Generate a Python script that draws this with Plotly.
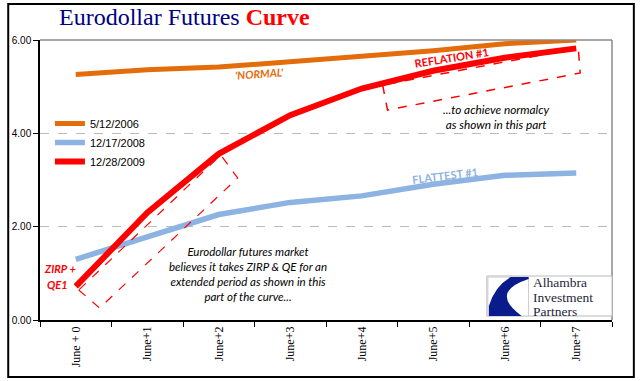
import plotly.graph_objects as go

categories = ["June + 0", "June+1", "June+2", "June+3", "June+4", "June+5", "June+6", "June+7"]
s2006 = [5.26, 5.36, 5.42, 5.53, 5.64, 5.77, 5.92, 6.00]
s2008 = [1.30, 1.78, 2.26, 2.52, 2.66, 2.91, 3.10, 3.15]
s2009 = [0.72, 2.30, 3.56, 4.39, 4.96, 5.34, 5.62, 5.82]
series_names = ["5/12/2006", "12/17/2008", "12/28/2009"]
series_colors = ["#E46C0A", "#8DB3E2", "#FF0000"]
y_ticks = [0, 2, 4, 6]

W, H = 641, 381
L, R, T, B = 36, 29, 40, 61
PW, PH = W - L - R, H - T - B


def px(x):
    return (x - L) / PW


def py(y):
    return (H - B - y) / PH


fig = go.Figure()
for name, vals, col, w in zip(series_names, [s2006, s2008, s2009], series_colors, [5, 5.5, 6]):
    fig.add_trace(go.Scatter(x=categories, y=vals, name=name, mode="lines",
                             line=dict(color=col, width=w)))

fig.update_layout(
    width=W, height=H,
    margin=dict(l=L, r=R, t=T, b=B),
    paper_bgcolor="white", plot_bgcolor="white",
    font=dict(family="Liberation Sans, Arial", size=10, color="black"),
    showlegend=True,
    legend=dict(x=px(46), y=py(109), xanchor="left", yanchor="top",
                font=dict(family="Liberation Sans, Arial", size=11, color="black"),
                bgcolor="rgba(0,0,0,0)", tracegroupgap=0, itemwidth=30),
    xaxis=dict(type="category", range=[-0.5, 7.5], showgrid=False,
               showline=True, linecolor="black", linewidth=1.5,
               ticks="outside", tickson="boundaries", ticklen=5, tickcolor="black",
               tickangle=-90,
               tickfont=dict(family="Liberation Serif, Times New Roman", size=12, color="black")),
    yaxis=dict(range=[0, 6], tickvals=y_ticks, tickformat=".2f",
               showgrid=True, gridcolor="#BBBBBB", griddash="dash", gridwidth=1,
               zeroline=False, showline=True, linecolor="black", linewidth=1.5,
               ticks="outside", ticklen=5, tickcolor="black",
               tickfont=dict(family="Liberation Sans, Arial", size=10, color="black")),
)

shapes = []
# plot-area top and right border
shapes.append(dict(type="line", xref="paper", yref="paper", x0=0, x1=1, y0=1, y1=1,
                   line=dict(color="#888888", width=1.5)))
shapes.append(dict(type="line", xref="paper", yref="paper", x0=1, x1=1, y0=0, y1=1,
                   line=dict(color="#888888", width=1.5)))
# outer frame
shapes.append(dict(type="rect", xref="paper", yref="paper",
                   x0=px(4), x1=px(634), y0=py(377), y1=py(4),
                   line=dict(color="black", width=2), layer="below"))


def poly(pts):
    d = "M " + " L ".join(f"{px(a):.4f},{py(b):.4f}" for a, b in pts) + " Z"
    return d


# dashed callouts
shapes.append(dict(type="path", xref="paper", yref="paper",
                   path=poly([(75, 290), (96, 308), (235, 178), (218, 155)]),
                   line=dict(color="#FF0000", width=1.2, dash="dash")))
shapes.append(dict(type="path", xref="paper", yref="paper",
                   path=poly([(381, 85), (386, 110), (580, 73), (578, 48)]),
                   line=dict(color="#FF0000", width=1.5, dash="dash")))

# logo box
shapes.append(dict(type="rect", xref="paper", yref="paper",
                   x0=px(486), x1=px(612), y0=py(316), y1=py(276),
                   line=dict(color="#BBBBBB", width=1), fillcolor="white"))
shapes.append(dict(type="rect", xref="paper", yref="paper",
                   x0=px(487), x1=px(528), y0=py(316), y1=py(277),
                   line=dict(color="#CCCCCC", width=1), fillcolor="white"))
logo_path = (f"M {px(510):.4f},{py(277):.4f} L {px(528):.4f},{py(277):.4f} "
             f"L {px(528):.4f},{py(279):.4f} Q {px(488):.4f},{py(292):.4f} {px(521):.4f},{py(316):.4f} "
             f"L {px(488):.4f},{py(316):.4f} L {px(488):.4f},{py(306):.4f} "
             f"Q {px(494):.4f},{py(286):.4f} {px(510):.4f},{py(277):.4f} Z")
shapes.append(dict(type="path", xref="paper", yref="paper", path=logo_path,
                   fillcolor="#0A1C8C", line=dict(width=0)))
fig.update_layout(shapes=shapes)

ann_font = "Lato, Calibri, Liberation Sans"
logo_font = dict(family="Liberation Serif, Times New Roman", size=13.5, color="#1F1F3A")
anns = [
    dict(x=px(182), y=py(17), text="Eurodollar Futures <b><span style='color:#FF0000'>Curve</span></b>",
         font=dict(family="Liberation Serif, Times New Roman", size=24, color="#000080")),
    dict(x=px(257), y=py(73), text="<b><i>'NORMAL'</i></b>", textangle=-4,
         font=dict(family=ann_font, size=11, color="#E46C0A")),
    dict(x=px(450), y=py(57), text="<b>REFLATION #1</b>", textangle=-9,
         font=dict(family=ann_font, size=11, color="#FF0000")),
    dict(x=px(444), y=py(175), text="<b>FLATTEST #1</b>", textangle=-7,
         font=dict(family=ann_font, size=11, color="#8DB3E2")),
    dict(x=px(74), y=py(268), text="<b><i>ZIRP +</i></b>", xanchor="right",
         font=dict(family=ann_font, size=11, color="#FF0000")),
    dict(x=px(66), y=py(284), text="<b><i>QE1</i></b>", xanchor="right",
         font=dict(family=ann_font, size=11, color="#FF0000")),
    dict(x=px(245), y=py(273.5),
         text="<i>Eurodollar futures market<br>believes it takes ZIRP &amp; QE for an<br>"
              "extended period as shown in this<br>part of the curve...</i>",
         font=dict(family=ann_font, size=11.5, color="black"), align="center"),
    dict(x=px(496), y=py(117),
         text="<i>...to achieve normalcy<br>as shown in this part</i>",
         font=dict(family=ann_font, size=11.8, color="black"), align="center"),
    dict(x=px(530), y=py(282.5), text="Alhambra", xanchor="left", font=logo_font),
    dict(x=px(530), y=py(297), text="Investment", xanchor="left", font=logo_font),
    dict(x=px(530), y=py(311.5), text="Partners", xanchor="left", font=logo_font),
]
for a in anns:
    a.setdefault("xref", "paper")
    a.setdefault("yref", "paper")
    a.setdefault("showarrow", False)
    a.setdefault("xanchor", "center")
    a.setdefault("yanchor", "middle")
fig.update_layout(annotations=anns)

fig.write_html("out.html", config={"displayModeBar": False},
               post_script="document.body.style.margin='0px';")
